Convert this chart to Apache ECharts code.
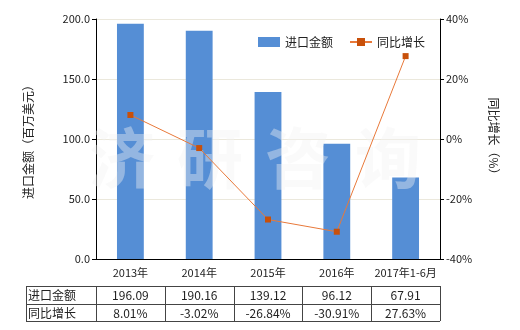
<!DOCTYPE html>
<html><head><meta charset="utf-8">
<script src="https://cdn.jsdelivr.net/npm/echarts@6/dist/echarts.min.js"></script>
<style>html,body{margin:0;padding:0;background:#fff}#c{width:520px;height:330px}</style>
</head><body><div id="c"></div>
<script>
const categories = ['2013年','2014年','2015年','2016年','2017年1-6月'];
const importValues = [196.09, 190.16, 139.12, 96.12, 67.91];
const growthValues = [8.01, -3.02, -26.84, -30.91, 27.63];
const importLabels = ['196.09','190.16','139.12','96.12','67.91'];
const growthLabels = ['8.01%','-3.02%','-26.84%','-30.91%','27.63%'];
const seriesNames = ['进口金额','同比增长'];
const leftTicks = [0, 50, 100, 150, 200];
const rightTicks = [-40, -20, 0, 20, 40];

const FONT = '"Microsoft YaHei","Noto Sans CJK SC",sans-serif';
const chart = echarts.init(document.getElementById('c'), null, {renderer:'canvas'});
const option = {
  animation:false,
  textStyle:{fontFamily:FONT},
  grid:{left:96, right:80, top:19, bottom:71, containLabel:false},
  legend:{
    top:31, left:253, itemWidth:22, itemHeight:10, itemGap:16,
    textStyle:{fontSize:12, color:'#222', fontFamily:FONT},
    data:[{name:seriesNames[0], icon:'rect'}, {name:seriesNames[1]}]
  },
  xAxis:{
    type:'category', data:categories,
    axisLine:{lineStyle:{color:'#000'}},
    axisTick:{alignWithLabel:true, length:4, lineStyle:{color:'#000'}},
    axisLabel:{color:'#222', fontSize:11, margin:8, interval:0, fontFamily:FONT}
  },
  yAxis:[{
    type:'value', min:leftTicks[0], max:leftTicks[leftTicks.length-1], interval:50,
    name:'进口金额（百万美元）', nameLocation:'middle', nameGap:62, nameRotate:90,
    nameTextStyle:{fontSize:12, color:'#222', fontFamily:FONT},
    axisLine:{show:true, lineStyle:{color:'#000'}},
    axisTick:{show:true, length:4, lineStyle:{color:'#000'}},
    axisLabel:{color:'#222', fontSize:11, formatter:v=>v.toFixed(1), margin:6},
    splitLine:{lineStyle:{color:'#ebe8dc'}}
  },{
    type:'value', min:rightTicks[0], max:rightTicks[rightTicks.length-1], interval:20,
    name:'同比增长（%）', nameLocation:'middle', nameGap:48, nameRotate:-90,
    nameTextStyle:{fontSize:12, color:'#222', fontFamily:FONT},
    axisLine:{show:true, lineStyle:{color:'#000'}},
    axisTick:{show:true, length:4, lineStyle:{color:'#000'}},
    axisLabel:{color:'#222', fontSize:11, formatter:v=>v+'%', margin:6},
    splitLine:{show:false}
  }],
  series:[{
    name:seriesNames[0], type:'bar', data:importValues, barWidth:'39%',
    itemStyle:{color:'#558ed5'}, z:2
  },{
    name:seriesNames[1], type:'line', yAxisIndex:1, data:growthValues,
    symbol:'rect', symbolSize:6,
    lineStyle:{color:'#e8793a', width:1},
    itemStyle:{color:'#c8500a'}, z:5
  }]
};
chart.setOption(option);

// table and watermark
const g = [];
const x0 = 26, y0 = 286, rowH = 17.5;
const xs = [x0];
const gridLeft = chart.convertToPixel({xAxisIndex:0}, categories[0]);
const bandW = chart.convertToPixel({xAxisIndex:0}, categories[1]) - gridLeft;
const tableLeft = gridLeft - bandW/2;
xs.push(tableLeft);
for (let i=1;i<=categories.length;i++) xs.push(tableLeft + bandW*i);
const xEnd = xs[xs.length-1];
const lineStyle = {stroke:'#444', lineWidth:1};
[y0, y0+rowH, y0+rowH*2].forEach(y=>{
  g.push({type:'line', shape:{x1:x0, y1:Math.round(y)+0.5, x2:xEnd, y2:Math.round(y)+0.5}, style:lineStyle, silent:true});
});
xs.forEach(x=>{
  g.push({type:'line', shape:{x1:Math.round(x)+0.5, y1:y0, x2:Math.round(x)+0.5, y2:y0+rowH*2}, style:lineStyle, silent:true});
});
const rows = [[seriesNames[0], importLabels],[seriesNames[1], growthLabels]];
rows.forEach((r,ri)=>{
  const cy = y0 + rowH*ri + rowH/2 + 1;
  g.push({type:'text', x:x0+2, y:cy, style:{text:r[0], fill:'#222', font:'12px '+FONT, textVerticalAlign:'middle', verticalAlign:'middle'}, silent:true});
  r[1].forEach((t,ci)=>{
    const cx = chart.convertToPixel({xAxisIndex:0}, categories[ci]);
    g.push({type:'text', x:cx, y:cy, style:{text:t, fill:'#222', font:'12px '+FONT, align:'center', textAlign:'center', verticalAlign:'middle', textVerticalAlign:'middle'}, silent:true});
  });
});
const wm = ['济','研','咨','询'];
const wmX = [122, 210, 298, 388];
wm.forEach((ch,i)=>{
  g.push({type:'text', x:wmX[i], y:158, z:3, style:{text:ch, fill:'rgba(242,242,242,0.4)', font:'bold 66px '+FONT, align:'center', textAlign:'center', verticalAlign:'middle', textVerticalAlign:'middle'}, silent:true});
});
chart.setOption({graphic:g});
</script></body></html>
